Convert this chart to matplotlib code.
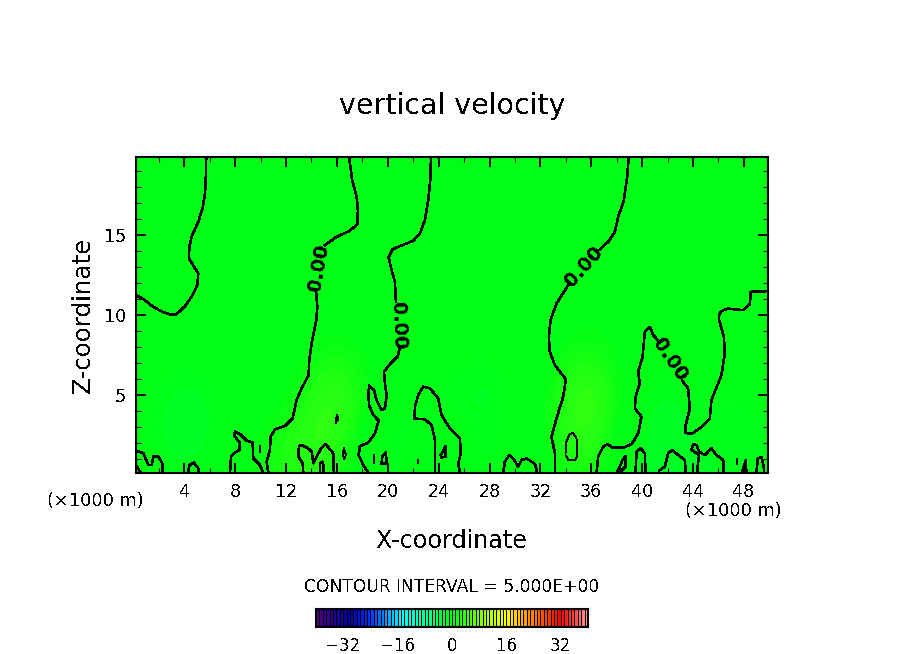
import numpy as np
import matplotlib
matplotlib.use("Agg")
import matplotlib.pyplot as plt
from matplotlib.colors import LinearSegmentedColormap, Normalize

plt.rcParams["font.family"] = "DejaVu Sans"
plt.rcParams["text.antialiased"] = False

# ---- data ----
field_x = [0, 4, 8, 12, 16, 20, 24, 28, 32, 36, 40, 44, 48, 52]
field_z = [0, 2.5, 5, 7.5, 10, 12.5, 15, 17.5, 20]
field_w = [
    [0.5, -2.0, 1.0, 3.0, 3.0, -2.5, 1.5, -2.0, 0.0, 3.5, -2.5, -1.5, -1.5, 0],
    [0.0, -3.0, -0.5, 3.0, 5.0, -3.0, 0.5, -2.0, 1.0, 5.5, -3.0, -1.0, -2.0, 0],
    [0.0, -2.5, -0.5, 0.5, 5.5, -1.2, -1.0, -2.5, 0.5, 6.5, -2.5, -1.0, -1.2, 0],
    [0.0, -1.0, 0.0, 0.0, 3.0, 0.0, -0.5, -1.2, 0.0, 3.5, -1.0, 0.0, -0.5, 0],
    [0.0, 0.0, 0.0, 0.0, 0.3, 0.0, 0.0, 0.0, 0.0, 0.6, 0.0, 0.0, 0.0, 0],
    [0.0] * 14,
    [0.0] * 14,
    [0.0] * 14,
    [0.0] * 14,
]

line_a = [(0, 11.2), (.58, 10.94), (1.37, 10.46), (2.03, 10.17), (2.82, 9.94), (3.22, 10.0), (3.88, 10.5),
          (4.40, 11.09), (4.85, 11.82), (4.93, 12.56), (4.59, 12.98), (4.19, 13.5), (4.22, 14.23), (4.40, 14.86),
          (4.93, 15.81), (5.27, 16.65), (5.46, 17.59), (5.54, 18.85), (5.56, 19.95)]
line_b1 = [(16.85, 19.95), (17.11, 18.43), (17.46, 17.38), (17.56, 16.54), (17.51, 15.66), (16.93, 15.24),
           (15.87, 14.86), (14.95, 14.34)]
line_b2 = [(14.24, 11.51), (14.35, 10.46), (14.27, 9.63), (13.9, 8.15), (13.71, 7.1), (13.66, 6.16), (13.11, 5.33),
           (12.71, 4.59), (12.39, 3.44), (11.79, 2.96), (11.0, 2.75), (10.65, 2.29), (10.6, 1.45), (10.34, .71),
           (10.47, .02)]
line_c1 = [(23.34, 19.95), (23.31, 18.64), (23.13, 17.17), (22.86, 15.91), (22.47, 15.07), (21.94, 14.61),
           (20.89, 14.28), (20.31, 14.07), (19.99, 13.56), (20.23, 12.77), (20.49, 12.03), (20.57, 10.78)]
line_c2 = [(20.89, 7.84), (20.68, 7.32), (20.15, 6.9), (19.62, 6.37), (19.7, 5.64), (19.83, 4.91), (19.7, 4.07),
           (19.44, 3.96), (19.04, 4.59), (18.83, 5.22), (18.46, 5.51), (18.38, 5.01), (18.46, 4.21), (18.78, 3.65),
           (19.2, 3.29), (18.91, 2.49), (18.38, 1.91), (17.72, 1.7), (17.62, 1.13), (17.99, .5), (18.38, .02)]
line_d = [(23.66, .02), (23.66, .82), (23.66, 2.08), (23.39, 3.02), (22.86, 3.38), (22.05, 3.42), (22.07, 4.17),
          (22.34, 4.91), (22.73, 5.43), (23.26, 5.33), (23.92, 4.7), (24.18, 3.65), (24.84, 2.81), (25.63, 2.18),
          (25.71, 1.24), (25.5, .61), (25.63, .02)]
line_e1 = [(39.0, 19.95), (38.87, 18.64), (38.61, 17.17), (38.16, 16.12), (37.9, 15.18), (37.37, 14.55), (36.72, 14.07)]
line_e2 = [(34.2, 11.82), (33.28, 10.67), (32.81, 9.63), (32.67, 8.57), (32.75, 7.63), (33.15, 6.79), (34.02, 5.89),
           (33.81, 4.8), (33.28, 3.44), (32.88, 2.29), (33.15, 1.24), (33.17, .02)]
line_f1 = [(36.45, .02), (36.58, 1.03), (36.97, 1.66), (37.32, 1.82), (37.71, 1.59), (38.56, 1.59), (39.22, 1.82),
           (39.74, 2.49), (40.0, 3.54), (39.48, 4.07), (39.56, 4.91), (39.87, 5.64), (39.74, 6.37), (40.09, 7.32),
           (40.27, 8.89), (40.67, 9.2), (40.93, 8.68), (41.24, 8.41)]
line_f2 = [(43.22, 5.81), (43.69, 5.33), (43.83, 4.07), (43.51, 3.02), (43.46, 2.54), (43.96, 2.45), (44.62, 2.81),
           (45.41, 3.44), (45.54, 4.59), (46.33, 6.16), (46.6, 7.53), (46.52, 8.57), (46.15, 9.62), (46.15, 9.94),
           (46.33, 10.19), (46.86, 10.34), (48.05, 10.25), (48.58, 10.63), (48.65, 11.4), (50.1, 11.45)]
low_g = [(0, 1.4), (.58, 1.24), (.98, .5), (1.24, .5), (1.37, 1.03), (1.77, 1.03), (2.08, .61), (2.11, .02)]
low_h = [(0, .5), (.37, .02)]
low_i = [(4.14, .02), (4.22, .5), (4.59, .65), (4.93, .29), (4.93, .02)]
low_j = [(7.44, .02), (7.52, 1.03), (7.83, 1.28), (8.18, 1.45), (8.23, 1.87), (7.75, 2.39), (7.83, 2.6), (8.23, 2.45),
         (8.76, 2.03), (9.23, 1.91), (9.28, .92), (9.81, .5), (10.07, .02)]
low_k = [(9.84, 1.7), (9.84, 1.34)]
low_l = [(13.24, .02), (13.19, .61), (12.84, 1.03), (12.9, 1.7), (13.11, 1.76), (13.63, 1.55), (13.9, 1.34),
         (14.03, .61), (14.3, 1.03), (14.64, 1.55), (15.0, 1.82), (15.61, 1.24), (15.66, .02)]
low_m = [(14.56, .02), (14.56, .61), (14.74, .71), (14.87, .4), (14.82, .02)]
low_p = [(18.85, 1.13), (18.85, .61)]
low_q = [(19.44, .61), (19.49, 1.03), (19.78, 1.28), (19.83, .57), (19.44, .61)]
low_r = [(22.28, .8), (22.28, .6)]
low_s = [(24.13, 1.13), (24.5, 1.7), (24.5, 1.03), (24.17, .98), (24.13, 1.13)]
low_u = [(29.06, .02), (29.19, .71), (29.54, 1.13), (29.85, .92), (30.25, .4), (30.51, .82), (30.91, .92),
         (31.57, .57), (31.75, .02)]
low_v = [(38.03, .02), (38.29, .4), (38.5, .82), (38.77, 1.07), (38.74, .4), (38.24, .02)]
low_w = [(39.53, .02), (39.61, 1.34), (39.93, 1.55), (40.27, 1.24), (40.32, .02)]
low_y = [(41.4, .15), (41.85, .4), (42.11, 1.24), (42.46, 1.45), (42.9, 1.13), (43.43, .82), (43.51, .02)]
low_z = [(44.4, .02), (44.49, .71), (44.57, 1.13), (43.96, 1.45), (44.09, 1.82), (44.36, 1.76), (44.57, 1.34),
         (45.02, 1.13), (45.54, 1.55), (45.94, 1.13), (46.47, .82), (46.52, .02)]
low_aa = [(47.6, .86), (47.6, .57)]
low_cc = [(49.1, .02), (49.21, .92), (49.5, .99), (49.68, .4), (49.71, .02)]
wedge_bb = [(47.92, .02), (48.26, .82), (48.31, .02)]
thin_n = [(15.82, 3.17), (15.88, 3.65), (16.03, 3.4), (15.82, 3.17)]
thin_o = [(16.46, 1.55), (16.61, 1.13), (16.48, .88), (16.35, 1.19), (16.46, 1.55)]
thin_t = [(34.57, 2.54), (34.86, 2.18), (34.94, 1.03), (34.73, .82), (34.2, .82), (33.99, 1.13), (34.02, 1.87),
          (34.28, 2.39), (34.57, 2.54)]

contour_labels = ["0.00", "0.00", "0.00", "0.00"]
label_x = [14.5, 20.8, 35.44, 42.25]
label_z = [12.93, 9.31, 12.98, 7.15]
label_angle = [80, -88, 48, -56]

x_major = [4, 8, 12, 16, 20, 24, 28, 32, 36, 40, 44, 48]
x_minor = [2, 6, 10, 14, 18, 22, 26, 30, 34, 38, 42, 46]
z_major = [5, 10, 15]
z_minor = [1, 2, 3, 4, 6, 7, 8, 9, 11, 12, 13, 14, 16, 17, 18, 19]
bar_ticks = [-32, -16, 0, 16, 32]
bar_edges = list(range(-40, 41))

color_nodes = [(-40, (0.30, 0.00, 0.50)), (-36, (0.20, 0.00, 0.55)), (-30, (0.00, 0.00, 0.62)),
               (-24, (0.00, 0.20, 1.00)), (-14.5, (0.00, 1.00, 1.00)), (-6, (0.00, 1.00, 0.50)),
               (-1, (0.00, 1.00, 0.08)), (1, (0.00, 1.00, 0.08)), (16, (1.00, 1.00, 0.00)),
               (24, (1.00, 0.50, 0.00)), (32, (1.00, 0.00, 0.00)), (37, (1.00, 0.30, 0.30)),
               (40, (1.00, 0.62, 0.62))]

# ---- figure ----
W, H = 904, 654
fig = plt.figure(figsize=(W / 100, H / 100), dpi=100, facecolor="white")


def box(l, t, r, b):
    return [l / W, 1 - b / H, (r - l) / W, (b - t) / H]


def fx(p):
    return p / W


def fy(p):
    return 1 - p / H


cmap = LinearSegmentedColormap.from_list(
    "ncar", [((v + 40) / 80, c) for v, c in color_nodes], N=160)
norm = Normalize(-40, 40)

ax = fig.add_axes(box(136, 157, 768, 473))
ax.imshow(np.array(field_w), origin="lower", cmap=cmap, norm=norm, aspect="auto",
          interpolation="bicubic", extent=[-2, 54, -1.25, 21.25])
ax.set_xlim(0.2, 49.9)
ax.set_ylim(0.14, 19.9)


# the traced lines were read against a slightly different pixel grid
def tx(a):
    return 0.2 + 0.9937 * np.asarray(a, float)


def tz(a):
    return 0.14 + 0.99375 * np.asarray(a, float)


thick = [line_a, line_b1, line_b2, line_c1, line_c2, line_d, line_e1, line_e2, line_f1, line_f2,
         low_g, low_h, low_i, low_j, low_k, low_l, low_m, low_p, low_q, low_r, low_s, low_u, low_v,
         low_w, low_y, low_z, low_aa, low_cc]
thin = [thin_n, thin_o, thin_t]
for ln in thick:
    a = np.array(ln)
    ax.plot(tx(a[:, 0]), tz(a[:, 1]), color="black", lw=1.15, antialiased=False, solid_joinstyle="round")
for ln in thin:
    a = np.array(ln)
    ax.plot(tx(a[:, 0]), tz(a[:, 1]), color="black", lw=0.6, antialiased=False)
a = np.array(wedge_bb)
ax.fill(tx(a[:, 0]), tz(a[:, 1]), color="black", antialiased=False)

for s, lx, lz, ang in zip(contour_labels, label_x, label_z, label_angle):
    ax.text(tx(lx), tz(lz), s, rotation=ang, rotation_mode="anchor", ha="center", va="center",
            fontsize=14, fontweight="bold", color="black")

ax.set_xticks(x_major)
ax.set_xticks(x_minor, minor=True)
ax.set_yticks(z_major)
ax.set_yticks(z_minor, minor=True)
ax.tick_params(which="major", direction="in", top=True, right=True, length=7, width=1.4,
               labelsize=12.7, pad=7)
ax.tick_params(which="minor", direction="in", top=True, right=True, length=3.5, width=0.8)
for sp in ax.spines.values():
    sp.set_linewidth(1.5)

fig.text(fx(452), fy(106), "vertical velocity", fontsize=20.5, ha="center", va="center")
fig.text(fx(452), fy(541), "X-coordinate", fontsize=17.2, ha="center", va="center")
fig.text(fx(83), fy(315), "Z-coordinate", fontsize=17.6, ha="center", va="center", rotation=90)
fig.text(fx(95), fy(501), "(×1000 m)", fontsize=12.8, ha="center", va="center")
fig.text(fx(733), fy(511), "(×1000 m)", fontsize=12.8, ha="center", va="center")
fig.text(fx(452), fy(587), "CONTOUR INTERVAL = 5.000E+00", fontsize=12.3, ha="center", va="center")

cax = fig.add_axes(box(316, 609, 588, 627))
edges = np.array(bar_edges, float)
centers = (edges[:-1] + edges[1:]) / 2
cax.pcolormesh(edges, [0, 1], centers[None, :], cmap=cmap, norm=norm, antialiased=False)
cax.vlines(edges, 0, 1, color="black", linewidth=0.72, antialiased=False)
cax.set_xlim(-40, 40)
cax.set_ylim(0, 1)
cax.set_yticks([])
cax.set_xticks(bar_ticks)
cax.set_xticklabels(["\u221232", "\u221216", "0", "16", "32"])
cax.tick_params(axis="x", length=0, labelsize=12, pad=7)
for sp in cax.spines.values():
    sp.set_linewidth(1.5)

fig.savefig("out.png", dpi=100)
